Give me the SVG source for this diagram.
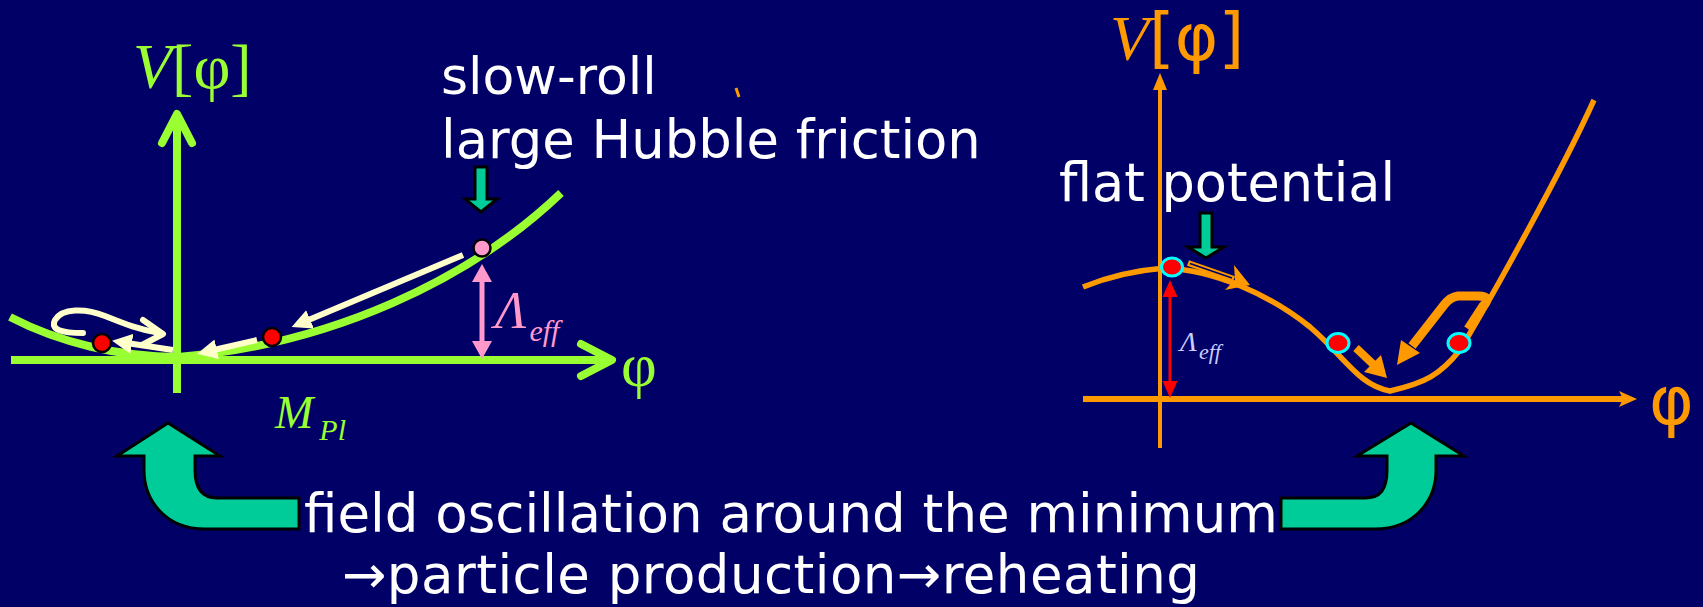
<svg xmlns="http://www.w3.org/2000/svg" width="1703" height="607" viewBox="0 0 1703 607">
<defs>
<style>
.sans{font-family:"DejaVu Sans","Verdana",sans-serif;fill:#ffffff}
.serif{font-family:"Liberation Serif","Times New Roman",serif}
.it{font-style:italic}
.green{fill:#99ff33}
.orange{fill:#ff9900}
.gline{stroke:#99ff33;fill:none;stroke-width:8}
.oline{stroke:#ff9900;fill:none}
.cream{stroke:#ffffcc;fill:none;stroke-width:6}
.teal{fill:#00cc99;stroke:#000000;stroke-width:3;stroke-linejoin:miter}
.dotL{fill:#ff0000;stroke:#000000;stroke-width:2.5}
.dotR{fill:#ff0000;stroke:#00ffff;stroke-width:3}
</style>
<marker id="creamHead" viewBox="0 0 10 10" markerUnits="userSpaceOnUse" markerWidth="20" markerHeight="20" refX="6" refY="5" orient="auto">
<path d="M0,0 L10,5 L0,10 Z" fill="#ffffcc"/>
</marker>
</defs>
<rect width="1703" height="607" fill="#000066"/>

<g id="left-axes">
<line class="gline" x1="177" y1="393" x2="177" y2="116"/>
<path class="gline" d="M162,143 L177,114 L192,143" stroke-linecap="round" stroke-linejoin="round"/>
<line class="gline" x1="11" y1="360" x2="610" y2="360"/>
<path class="gline" d="M581,344 L612,360 L581,376" stroke-linecap="round" stroke-linejoin="round"/>
<text class="serif green" x="133" y="88" font-size="64"><tspan class="it">V</tspan>[φ]</text>
<text class="serif green" x="621" y="386" font-size="62">φ</text>
<text class="serif green it" x="275" y="428" font-size="46">M<tspan font-size="30" dx="6" dy="12">Pl</tspan></text>
</g>

<g id="left-curve">
<path d="M10,317 C60,343 120,357 178,357 C330,345 470,280 561,193" fill="none" stroke="#99ff33" stroke-width="8"/>
</g>

<g id="left-labels">
<text class="sans" x="441" y="94" font-size="52">slow-roll</text>
<text class="sans" x="441" y="158" font-size="52.8">large Hubble friction</text>
<polygon class="teal" points="475,167 487,167 487,199 497,199 481,212 465,199 475,199"/>
<text class="serif it" x="495" y="328" font-size="52" fill="#ff99cc">Λ<tspan font-size="30" dx="3" dy="13">eff</tspan></text>
</g>

<g id="left-lambda">
<line x1="482" y1="278" x2="482" y2="345" stroke="#ff99cc" stroke-width="5"/>
<polygon points="482,264 472,282 492,282" fill="#ff99cc"/>
<polygon points="482,359 472,341 492,341" fill="#ff99cc"/>
</g>

<g id="left-dots">
<circle class="dotL" cx="482" cy="248" r="8.5" style="fill:#ff99cc"/>
<circle class="dotL" cx="272" cy="337" r="9"/>
<circle class="dotL" cx="102" cy="343" r="9"/>
</g>

<g id="connectors">
<line class="cream" x1="463" y1="255" x2="299" y2="324" marker-end="url(#creamHead)"/>
<line class="cream" x1="257" y1="340" x2="205" y2="352" marker-end="url(#creamHead)"/>
<line class="cream" x1="173" y1="350" x2="120" y2="342" marker-end="url(#creamHead)"/>
<path class="cream" d="M83,333 C62,333 50,330 55,320 C62,308 85,308 105,316 C125,324 140,330 160,333" stroke-linecap="round"/>
<path class="cream" d="M143,320 L163,334 L142,345" stroke-linejoin="round" stroke-linecap="round"/>

<line x1="1188" y1="263" x2="1234" y2="279" stroke="#ff9900" stroke-width="6"/>
<line x1="1190" y1="263.5" x2="1232" y2="278" stroke="#000066" stroke-width="1.6"/>
<polygon points="1250,285 1234,265 1235,279.5 1225,290" fill="#ff9900"/>
<line x1="1356" y1="348" x2="1374" y2="365" stroke="#ff9900" stroke-width="8"/>
<polygon points="1387,378 1364,372 1381,355" fill="#ff9900"/>
<path d="M1468,329 L1483,306 Q1493,296 1478,296 L1458,296 Q1450,297 1444,305 L1412,346" fill="none" stroke="#ff9900" stroke-width="9" stroke-linejoin="round"/>
<polygon points="1397,365 1401,340 1420,353" fill="#ff9900"/>

<path class="teal" d="M168,423 L220,456 L195,456 L195,470 C195,490 203,498 217,498 L299,498 L299,529 L205,529 C165,529 144,500 144,470 L144,456 L117,456 Z"/>
<path class="teal" d="M1411,423 L1464,456 L1436,456 L1436,470 C1436,500 1415,529 1375,529 L1281,529 L1281,498 L1365,498 C1380,498 1387,490 1387,470 L1387,456 L1357,456 Z"/>
</g>

<g id="right-axes">
<line class="oline" x1="1160" y1="448" x2="1160" y2="88" stroke-width="4"/>
<polygon points="1160,73 1153,90 1167,90" fill="#ff9900"/>
<line class="oline" x1="1083" y1="399" x2="1624" y2="399" stroke-width="6"/>
<polygon points="1637,399 1619,391 1623,399 1619,407" fill="#ff9900"/>
<text class="orange" x="1110" y="60"><tspan class="serif it" font-size="64">V</tspan><tspan font-family="DejaVu Sans, Verdana, sans-serif" font-size="66">[φ]</tspan></text>
<text class="orange" x="1649" y="424" font-family="DejaVu Sans, Verdana, sans-serif" font-size="68">φ</text>
<line x1="736" y1="88" x2="739" y2="97" stroke="#ff9900" stroke-width="3"/>
</g>

<g id="right-curve">
<path d="M1083,287 C1110,276 1140,270 1165,268 C1215,270 1270,295 1310,327 C1345,357 1358,385 1390,391 C1425,383 1440,375 1460,350 C1490,300 1560,175 1594,100" fill="none" stroke="#ff9900" stroke-width="5.5"/>
</g>

<g id="right-labels">
<text class="sans" x="1059" y="201" font-size="52.5">flat potential</text>
<polygon class="teal" points="1200,213 1212,213 1212,247 1224,247 1206,258 1188,247 1200,247"/>
<text class="serif it" x="1180" y="351" font-size="28" fill="#ccccff">Λ<tspan font-size="22" dx="2" dy="8">eff</tspan></text>
</g>

<g id="right-lambda">
<line x1="1170" y1="295" x2="1170" y2="384" stroke="#ff0000" stroke-width="3"/>
<polygon points="1170,280 1162.5,297 1177.5,297" fill="#ff0000"/>
<polygon points="1170,398 1162.5,381 1177.5,381" fill="#ff0000"/>
</g>

<g id="right-dots">
<ellipse class="dotR" cx="1172" cy="267" rx="10.5" ry="9"/>
<ellipse class="dotR" cx="1338" cy="343" rx="11" ry="9.5"/>
<ellipse class="dotR" cx="1459" cy="343" rx="11" ry="9.5"/>
</g>

<g id="caption">
<text class="sans" x="304" y="532" font-size="53">field oscillation around the minimum</text>
<text class="sans" x="342" y="593" font-size="53" textLength="858" lengthAdjust="spacing">→particle production→reheating</text>
</g>
</svg>
